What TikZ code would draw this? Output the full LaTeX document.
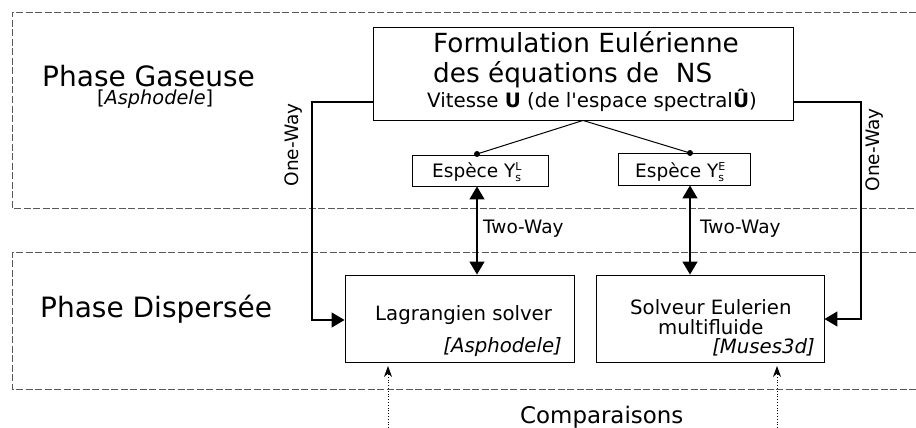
\documentclass[tikz,border=0pt]{standalone}
\usepackage{fontspec}
\setmainfont{DejaVu Sans}
\newfontfamily\droit{DejaVu Sans}
\usetikzlibrary{arrows.meta}

\newcommand{\taille}[2]{\fontsize{#1}{#2}\selectfont}
\newcommand{\indice}[2]{$^{\mbox{\taille{11}{11}#1}}_{\mbox{\taille{11}{11}#2}}$}

\tikzset{
  phase/.style={draw=black!65, line width=0.8pt, dash pattern=on 7pt off 2.5pt},
  bloc/.style={draw, line width=0.9pt, inner sep=0pt},
  txt/.style={inner sep=0pt, anchor=base west},
  flux/.style={line width=1.4pt, -{Triangle[length=13pt,width=15pt]}},
  deux/.style={line width=1.4pt, {Triangle[length=13pt,width=15pt]}-{Triangle[length=13pt,width=15pt]}},
  comp/.style={line width=0.8pt, dotted, -{Stealth[length=11pt,width=8pt]}},
  lien/.style={line width=1pt}
}

\begin{document}
\begin{tikzpicture}[x=1pt, y=-1pt]
  \useasboundingbox (0,0) rectangle (916,428);

  % zones des deux phases
  \draw[phase] (916,12) -| (12,208) -- (916,208);
  \draw[phase] (916,252) -| (12,389) -- (916,389);
  \node[txt] (gaz) at (42,87) {\taille{28}{30}Phase Gaseuse};
  \node[txt] (gazcode) at (97,104) {\taille{19.3}{20}[\textit{Asphodele}]};
  \node[txt] (disp) at (40,317) {\taille{28}{30}Phase Dispersée};

  % blocs
  \node[bloc, minimum width=420pt, minimum height=93pt] (formul) at (583,73.5) {};
  \node[txt] (formulA) at (433,53) {\taille{26.3}{28}Formulation Eulérienne};
  \node[txt] (formulB) at (433,82) {\taille{26.3}{28}des équations de\ \ NS};
  \node[txt] (formulC) at (427,107) {\taille{19.8}{22}Vitesse \textbf{U} (de l{\droit '}espace spectral\textbf{Û})};

  \node[bloc, minimum width=136pt, minimum height=31pt] (espL) at (480,170.5) {};
  \node[txt] (espLtxt) at (432,177) {\taille{18.5}{20}Espèce Y\indice{L}{s}};
  \node[bloc, minimum width=132pt, minimum height=32pt] (espE) at (684,169) {};
  \node[txt] (espEtxt) at (635,177) {\taille{18.5}{20}Espèce Y\indice{E}{s}};

  \node[bloc, minimum width=229pt, minimum height=87pt] (lagr) at (459.5,318.5) {};
  \node[txt] (lagrA) at (375,320) {\taille{19.7}{22}Lagrangien solver};
  \node[txt, anchor=base east] (lagrB) at (562,352) {\taille{19.7}{22}\textit{[Asphodele]}};

  \node[bloc, minimum width=228pt, minimum height=87pt] (solv) at (710,318.5) {};
  \node[txt] (solvA) at (630,314) {\taille{19.7}{22}Solveur Eulerien};
  \node[txt] (solvB) at (658,334) {\taille{19.7}{22}multifluide};
  \node[txt, anchor=base east] (solvC) at (815,353) {\taille{19.7}{22}\textit{[Muses3d]}};

  % liaisons gaz -> especes
  \coordinate (pL) at (477,154);
  \coordinate (pE) at (690,153);
  \draw[lien] (formul.south) -- (pL);
  \draw[lien] (formul.south) -- (pE);
  \fill (pL) circle (3pt);
  \fill (pE) circle (3pt);

  % couplages
  \draw[deux] (pL |- espL.south) -- (pL |- lagr.north);
  \draw[deux] (pE |- espE.south) -- (pE |- solv.north);
  \node[txt] (twoL) at (483,233) {\taille{18.5}{20}Two-Way};
  \node[txt] (twoE) at (700,233) {\taille{18.5}{20}Two-Way};

  \draw[flux] (formul.west |- 0,102) -| (312,320) -- (lagr.west |- 0,320);
  \draw[flux] (formul.east |- 0,102) -| (861,319) -- (solv.east |- 0,319);
  \node[rotate=90, inner sep=0pt] (oneL) at (294,145) {\taille{18.5}{20}One-Way};
  \node[rotate=90, inner sep=0pt] (oneE) at (875,150) {\taille{18.5}{20}One-Way};

  % comparaisons
  \coordinate (cL) at (388,428);
  \coordinate (cE) at (777,428);
  \draw[comp] (cL) -- (cL |- 0,366);
  \draw[comp] (cE) -- (cE |- 0,366);
  \node[txt] (compar) at (520,423) {\taille{22.9}{24}Comparaisons};
\end{tikzpicture}
\end{document}
